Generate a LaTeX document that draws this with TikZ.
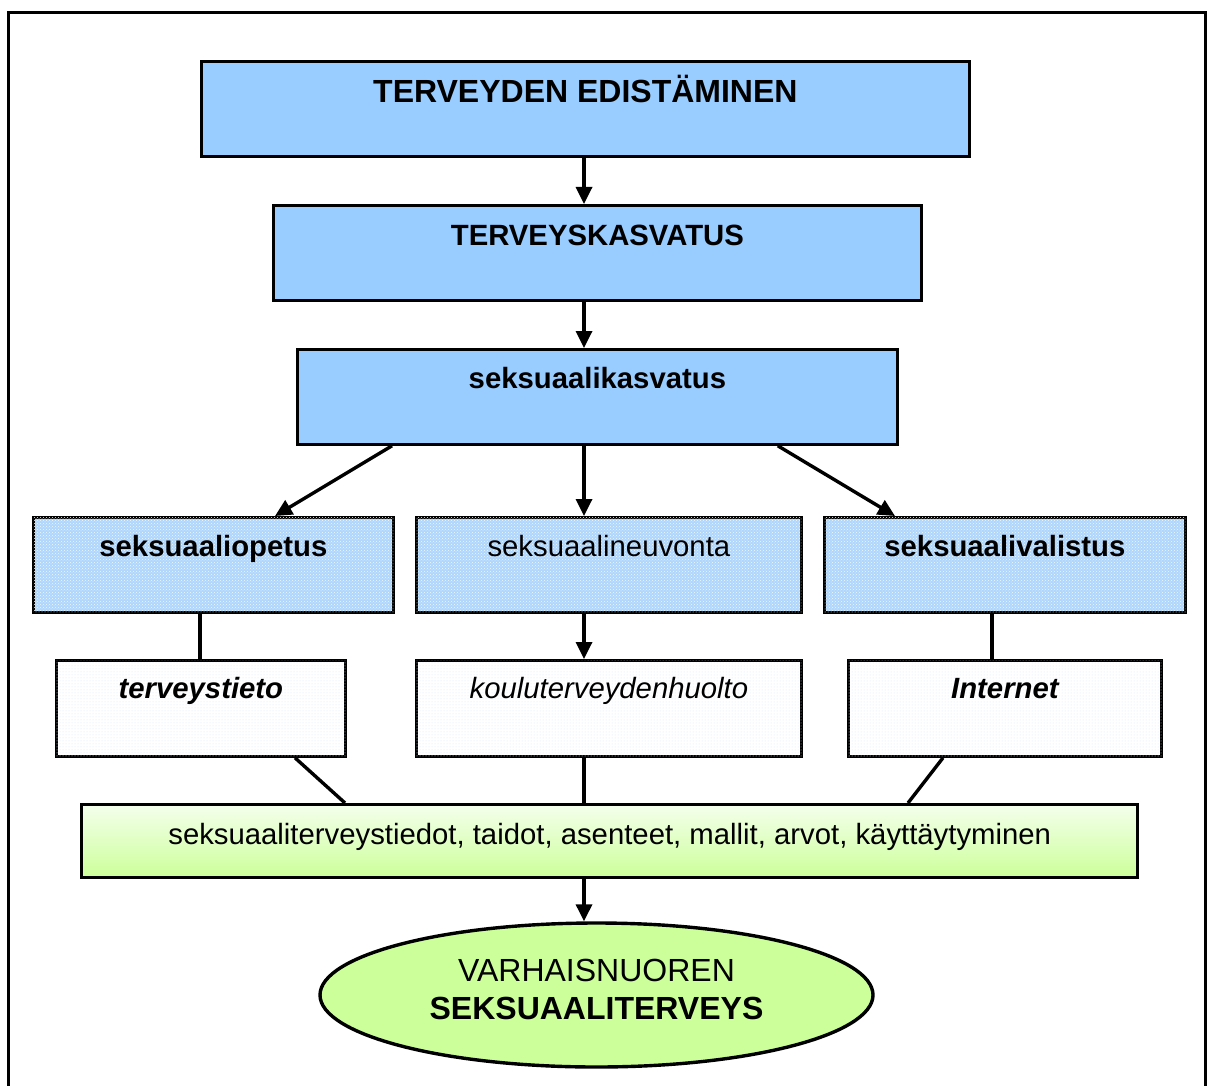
\documentclass[tikz,border=0pt]{standalone}
\usepackage{fontspec}
\setmainfont{Liberation Sans}
\usetikzlibrary{arrows.meta,shapes.geometric,patterns,calc}
\definecolor{topblue}{RGB}{153,204,255}
\definecolor{texblue}{RGB}{175,214,251}
\definecolor{dotblue}{RGB}{215,232,250}
\definecolor{lgreen}{RGB}{204,255,153}
\definecolor{pgreen}{RGB}{244,255,236}
\tikzset{
  box/.style={draw=black, line width=2.8pt, rectangle, inner sep=0pt, anchor=north west, font=\fontsize{29.3}{32}\selectfont},
  bluebox/.style={box, fill=topblue, text height=40pt, text depth=55pt},
  texbox/.style={box, fill=texblue, postaction={pattern=crosshatch dots, pattern color=white!80!texblue}, text height=39pt, text depth=56pt},
  whitebox/.style={box, fill=white, postaction={pattern=dots, pattern color=dotblue}, text height=38pt, text depth=58pt},
  arr/.style={line width=3.4pt, -{Triangle[length=17pt,width=16pt]}},
  ln/.style={line width=3.4pt},
}
\begin{document}
\begin{tikzpicture}[x=1pt,y=-1pt]
\useasboundingbox (0,0) rectangle (1207,1086);
\fill[white] (0,0) rectangle (1207,1086);
% outer frame (open at the bottom)
\draw[line width=3.5pt] (8.5,1090) -- (8.5,12.5) -- (1205.5,12.5) -- (1205.5,1090);
\coordinate (axis) at (584,0);
% top levels
\node[bluebox, minimum width=768pt, font=\bfseries\fontsize{32}{34}\selectfont, text height=41pt, text depth=54pt] (b1) at (200,60) {TERVEYDEN EDISTÄMINEN};
\node[bluebox, minimum width=648pt, font=\bfseries\fontsize{29.3}{32}\selectfont] (b2) at (272,204) {TERVEYSKASVATUS};
\node[bluebox, minimum width=600pt, font=\bfseries\fontsize{29.3}{32}\selectfont, text height=39pt, text depth=56pt] (b3) at (296,348) {seksuaalikasvatus};
% third level
\node[texbox, minimum width=360pt, font=\bfseries\fontsize{29.3}{32}\selectfont] (b4) at (32,516) {seksuaaliopetus};
\node[texbox, minimum width=385pt] (b5) at (415,516) {seksuaalineuvonta};
\node[texbox, minimum width=361pt, font=\bfseries\fontsize{29.3}{32}\selectfont] (b6) at (823,516) {seksuaalivalistus};
% fourth level
\node[whitebox, minimum width=289pt, font=\bfseries\itshape\fontsize{29.3}{32}\selectfont] (c1) at (55,659) {terveystieto};
\node[whitebox, minimum width=385pt, font=\itshape\fontsize{29.3}{32}\selectfont] (c2) at (415,659) {kouluterveydenhuolto};
\node[whitebox, minimum width=313pt, font=\bfseries\itshape\fontsize{29.3}{32}\selectfont] (c3) at (847,659) {Internet};
% green box
\node[box, line width=3.4pt, minimum width=1056pt, text height=40pt, text depth=33pt, top color=pgreen, bottom color=lgreen] (g) at (80,803) {seksuaaliterveystiedot, taidot, asenteet, mallit, arvot, käyttäytyminen};
% ellipse
\node[ellipse, draw=black, line width=3.4pt, fill=lgreen, minimum width=553pt, minimum height=144pt, inner sep=0pt, font=\fontsize{32}{38}\selectfont] (e) at (596.5,995) {\begin{tabular}[b]{@{}c@{}}VARHAISNUOREN\\\textbf{SEKSUAALITERVEYS}\end{tabular}\rule[-15.5pt]{0pt}{1pt}};
% connectors
\draw[arr] (b1.south -| axis) -- (b2.north -| axis);
\draw[arr] (b2.south -| axis) -- (b3.north -| axis);
\draw[arr] ([xshift=96pt]b3.south west) -- ([xshift=243pt]b4.north west);
\draw[arr] (b3.south -| axis) -- (b5.north -| axis);
\draw[arr] ([xshift=-121pt]b3.south east) -- ([xshift=72pt]b6.north west);
\draw[ln] ([xshift=168pt]b4.south west) -- ([xshift=145pt]c1.north west);
\draw[arr] (b5.south -| axis) -- (c2.north -| axis);
\draw[ln] ([xshift=169pt]b6.south west) -- ([xshift=145pt]c3.north west);
\draw[ln] ([xshift=240pt]c1.south west) -- ([xshift=265pt]g.north west);
\draw[ln] (c2.south -| axis) -- (g.north -| axis);
\draw[ln] ([xshift=96pt]c3.south west) -- ([xshift=828pt]g.north west);
\draw[arr] (g.south -| axis) -- (e.north -| axis);
\end{tikzpicture}
\end{document}
